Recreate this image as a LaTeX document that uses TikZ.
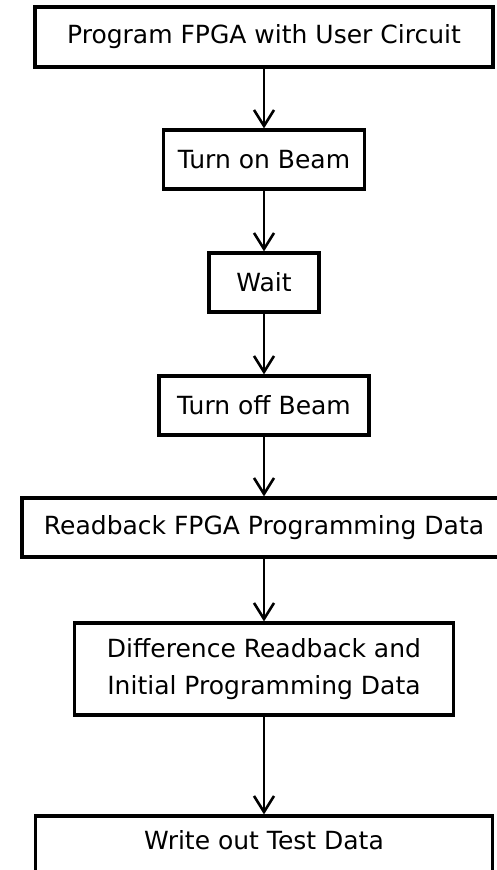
\documentclass[tikz,border=0pt]{standalone}
\usepackage{fontspec}
\setmainfont{DejaVu Sans}
\usetikzlibrary{arrows.meta}
\begin{document}
\begin{tikzpicture}[x=1pt,y=-1pt,
  stepbox/.style={draw=black, line width=3.2pt, fill=white, inner sep=0pt, align=center,
    font=\fontsize{25}{37}\selectfont},
  flow/.style={draw=black, line width=2.6pt, -{Straight Barb[length=16pt,width=20pt,line width=2.6pt]}}]
\useasboundingbox (0,0) rectangle (496,870);
\node[stepbox, minimum width=458pt, minimum height=60pt] (b1) at (264,37) {Program FPGA with User Circuit};
\node[stepbox, minimum width=201pt, minimum height=59pt] (b2) at (264,159.5) {Turn on Beam};
\node[stepbox, minimum width=110pt, minimum height=59pt] (b3) at (264,282.5) {Wait};
\node[stepbox, minimum width=210pt, minimum height=59pt] (b4) at (264,405.5) {Turn off Beam};
\node[stepbox, minimum width=484pt, minimum height=59pt] (b5) at (264,527.5) {Readback FPGA Programming Data};
\node[stepbox, minimum width=379pt, minimum height=92pt] (b6) at (264,669) {Difference Readback and\\Initial Programming Data};
\node[stepbox, minimum width=457pt, minimum height=62pt, text depth=14pt] (b7) at (264,847) {Write out Test Data};
\draw[flow] (b1.south) -- (b2.north);
\draw[flow] (b2.south) -- (b3.north);
\draw[flow] (b3.south) -- (b4.north);
\draw[flow] (b4.south) -- (b5.north);
\draw[flow] (b5.south) -- (b6.north);
\draw[flow] (b6.south) -- (b7.north);
\end{tikzpicture}
\end{document}
